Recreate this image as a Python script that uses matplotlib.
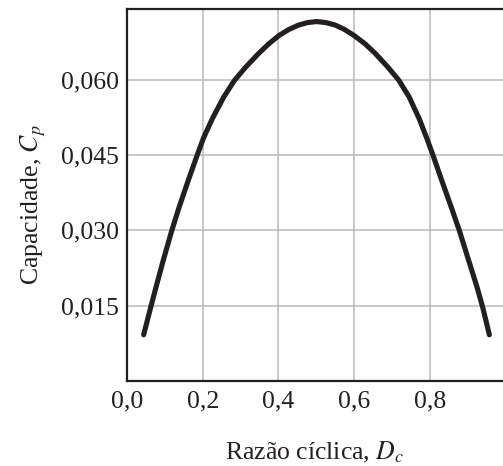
import numpy as np
import matplotlib.pyplot as plt

# duty cycle vs capacity
duty = [0.044, 0.063, 0.077, 0.096, 0.118, 0.138, 0.162, 0.184, 0.202, 0.225,
        0.255, 0.283, 0.312, 0.347, 0.375, 0.401, 0.427, 0.453, 0.477, 0.501,
        0.525, 0.550, 0.575, 0.600, 0.628, 0.655, 0.688, 0.717, 0.745, 0.772,
        0.792, 0.808, 0.831, 0.856, 0.878, 0.902, 0.924, 0.939, 0.957]
cap = [0.0092, 0.0148, 0.0188, 0.0241, 0.0299, 0.0347, 0.0400, 0.0447, 0.0484, 0.0522,
       0.0565, 0.0598, 0.0624, 0.0652, 0.0672, 0.0688, 0.0700, 0.0709, 0.0714, 0.0716,
       0.0714, 0.0709, 0.0700, 0.0688, 0.0672, 0.0653, 0.0626, 0.0600, 0.0566, 0.0522,
       0.0483, 0.0450, 0.0400, 0.0347, 0.0299, 0.0241, 0.0188, 0.0148, 0.0092]

xticks = [0.0, 0.2, 0.4, 0.6, 0.8]
xtick_labels = ["0,0", "0,2", "0,4", "0,6", "0,8"]
yticks = [0.015, 0.030, 0.045, 0.060]
ytick_labels = ["0,015", "0,030", "0,045", "0,060"]

plt.rcParams['font.family'] = ['Liberation Serif', 'DejaVu Serif']
plt.rcParams['mathtext.fontset'] = 'stix'


def main():
    fig = plt.figure(figsize=(5.03, 4.66), dpi=100)
    ax = fig.add_axes([127 / 503, 1 - 381 / 466, 1 - 127 / 503, (381 - 9) / 466])

    ax.plot(duty, cap, color="#231f20", linewidth=3.7, solid_capstyle="round",
            solid_joinstyle="round", zorder=3)

    ax.set_xlim(0, 0.993)
    ax.set_ylim(0, 0.0741)
    ax.set_xticks(xticks)
    ax.set_xticklabels(xtick_labels)
    ax.set_yticks(yticks)
    ax.set_yticklabels(ytick_labels)
    ax.tick_params(length=0, labelsize=18.5, colors="#231f20")
    ax.tick_params(axis="y", pad=6)
    ax.tick_params(axis="x", pad=7)

    ax.grid(True, color="#b9b9bd", linewidth=1.1)
    ax.set_axisbelow(True)

    for side in ["left", "top", "bottom"]:
        ax.spines[side].set_linewidth(1.6)
        ax.spines[side].set_color("#231f20")
    ax.spines["right"].set_visible(False)

    ax.set_xlabel(r"Razão cíclica, $D_c$", fontsize=18.5, color="#231f20")
    ax.set_ylabel(r"Capacidade, $C_p$", fontsize=18.5, color="#231f20")
    ax.xaxis.set_label_coords(0.5, -0.158)
    ax.yaxis.set_label_coords(-0.25, 0.473)
    ax.yaxis.label.set_va("center")

    fig.savefig("out.png", dpi=100)


if __name__ == '__main__':
    main()
